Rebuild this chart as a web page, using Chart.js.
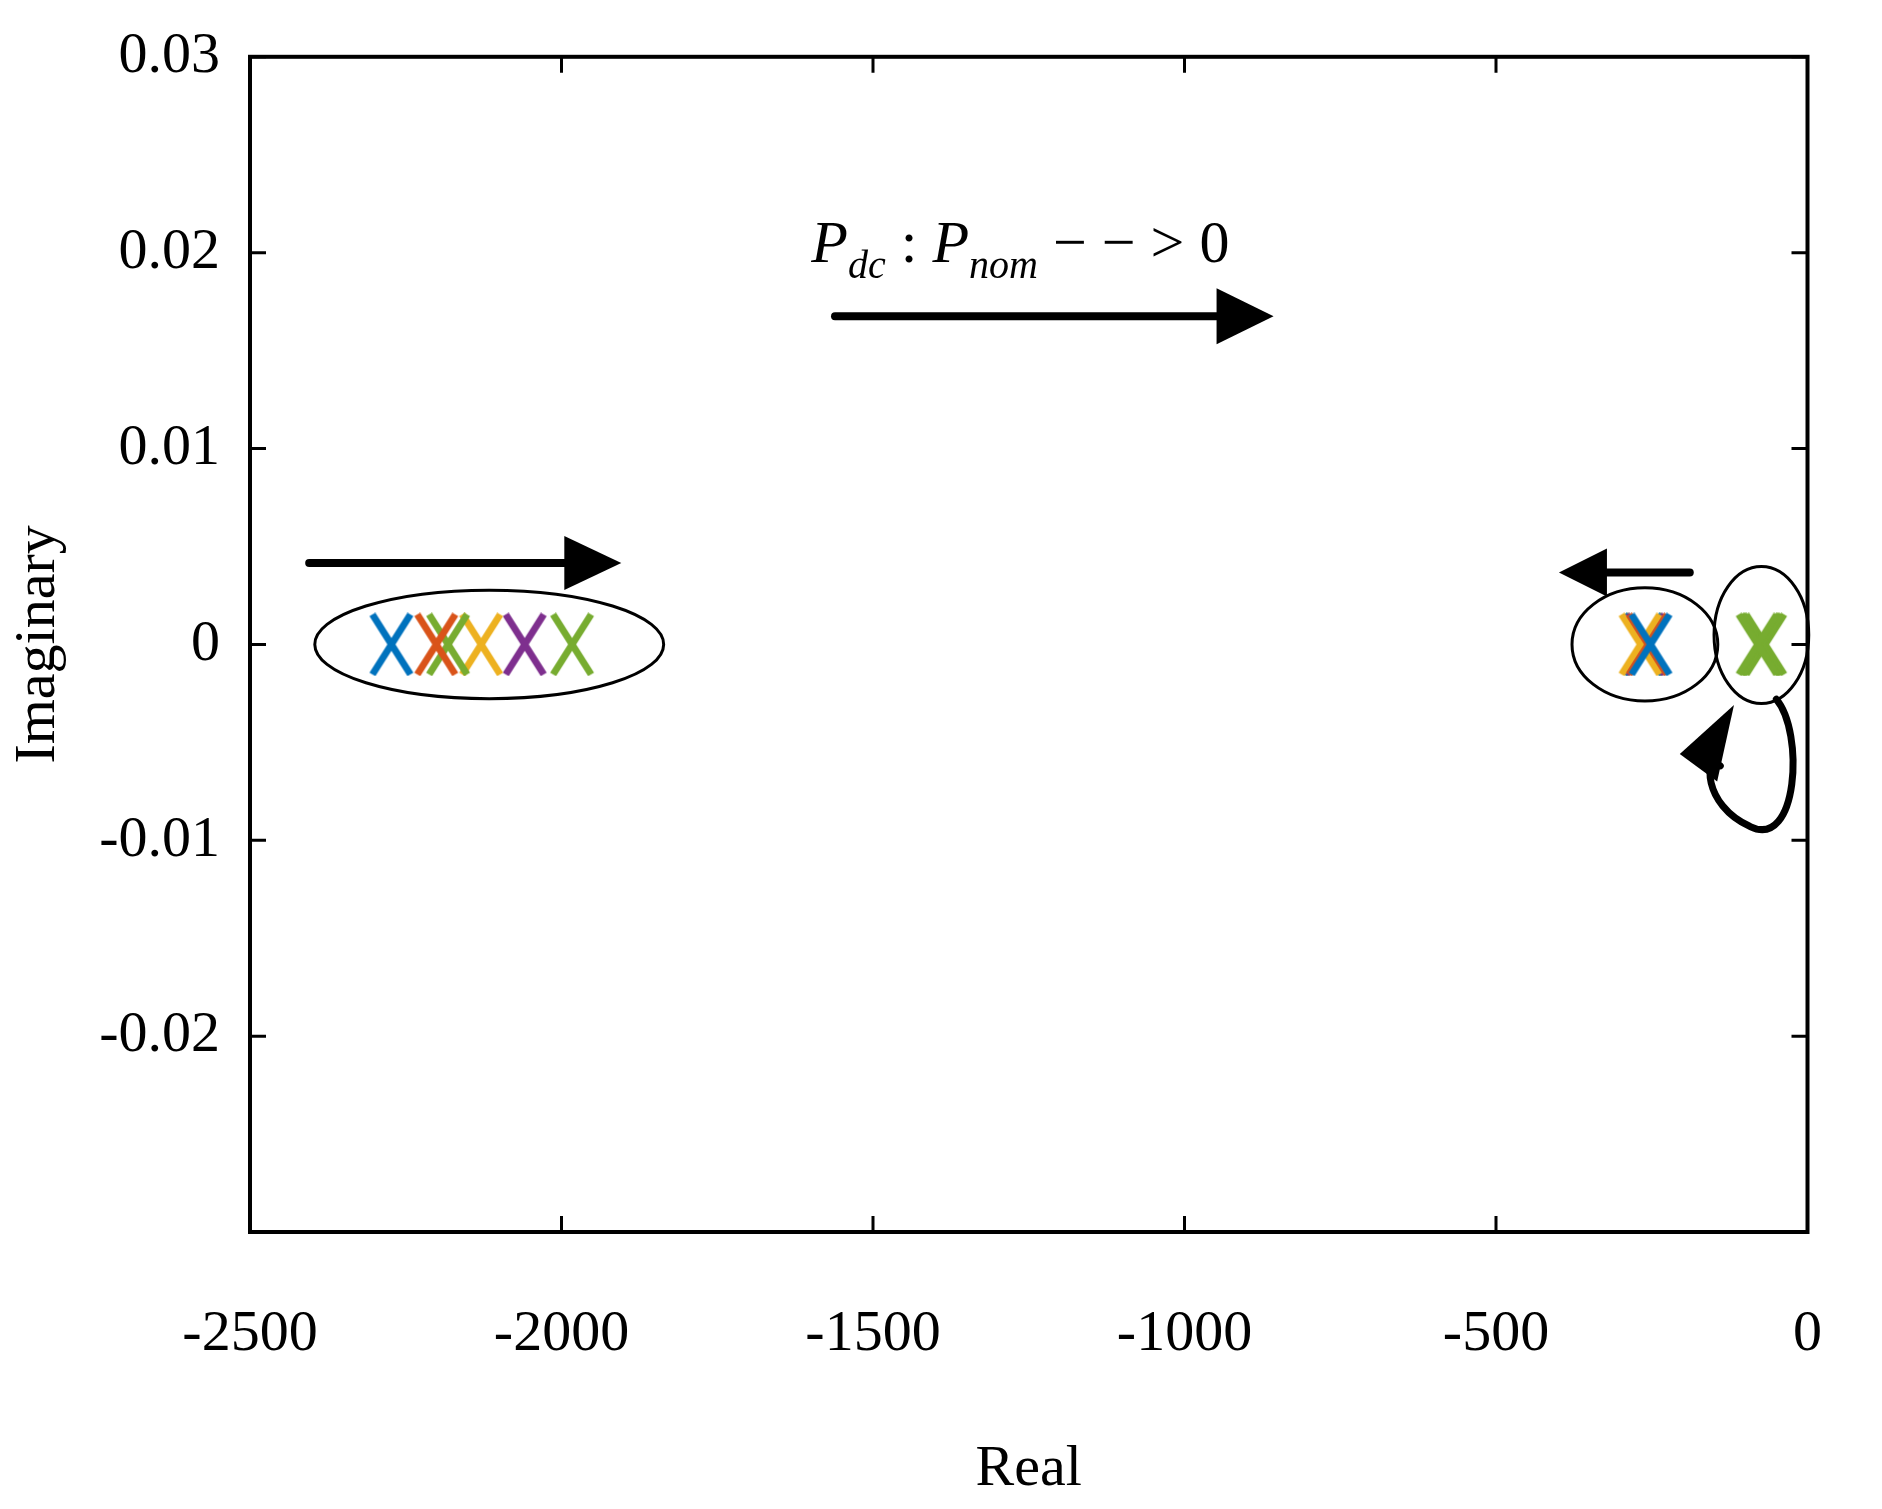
<!DOCTYPE html>
<html>
<head>
<meta charset="utf-8">
<script src="https://cdn.jsdelivr.net/npm/chart.js@4.4.0/dist/chart.umd.min.js"></script>
<style>
  body { margin: 0; background: #fff; }
</style>
</head>
<body>
<canvas id="c" width="1882" height="1509"></canvas>
<script>
// tick labels
const xTicks = [-2500, -2000, -1500, -1000, -500, 0];
const yTicks = [0.03, 0.02, 0.01, 0, -0.01, -0.02, -0.03];

// pole locations (real parts, imaginary = 0)
const leftReal = [-2273, -2201, -2182, -2129, -2059, -1983];
const leftColors = ['#0072BD', '#D95319', '#77AC30', '#EDB120', '#7E2F8E', '#77AC30'];
const midReal = [-252, -256, -268, -260, -264, -262];
const midColors = ['#0072BD', '#D95319', '#EDB120', '#7E2F8E', '#0072BD', '#77AC30'];
const rightReal = [-80, -74, -68, -76, -72];
const rightColors = ['#77AC30', '#77AC30', '#77AC30', '#77AC30', '#77AC30'];

// letter-like X marker (taller than wide)
function xMarker(color) {
  const c = document.createElement('canvas');
  c.width = 46; c.height = 64;
  const g = c.getContext('2d');
  g.strokeStyle = color; g.lineWidth = 7; g.lineCap = 'butt';
  g.beginPath(); g.moveTo(4, 2); g.lineTo(42, 62); g.moveTo(42, 2); g.lineTo(4, 62); g.stroke();
  return c;
}

function poles(reals, colors) {
  return reals.map((r, i) => ({
    data: [{ x: r, y: 0 }],
    pointStyle: xMarker(colors[i]),
    pointRadius: 30,
    borderColor: colors[i],
    showLine: false
  }));
}

const datasets = [].concat(poles(leftReal, leftColors), poles(midReal, midColors), poles(rightReal, rightColors));

const serif = '"Liberation Serif", "DejaVu Serif", serif';

// annotations: ellipses, arrows, text, ticks, frame
const overlay = {
  id: 'overlay',
  afterDatasetsDraw(chart) {
    const ctx = chart.ctx, x = chart.scales.x, y = chart.scales.y, a = chart.chartArea;
    const px = v => x.getPixelForValue(v), py = v => y.getPixelForValue(v);
    ctx.save();
    ctx.strokeStyle = '#000';
    ctx.fillStyle = '#000';

    // ticks inward on all sides
    ctx.lineWidth = 3;
    xTicks.forEach(t => {
      const p = px(t);
      ctx.beginPath(); ctx.moveTo(p, a.bottom); ctx.lineTo(p, a.bottom - 16);
      ctx.moveTo(p, a.top); ctx.lineTo(p, a.top + 16); ctx.stroke();
    });
    yTicks.forEach(t => {
      const p = py(t);
      ctx.beginPath(); ctx.moveTo(a.left, p); ctx.lineTo(a.left + 16, p);
      ctx.moveTo(a.right, p); ctx.lineTo(a.right - 16, p); ctx.stroke();
    });
    ctx.lineWidth = 4;
    ctx.strokeRect(a.left, a.top, a.right - a.left, a.bottom - a.top);

    // ellipses
    ctx.lineWidth = 3;
    function ell(cx, cy, rx, ry) {
      ctx.beginPath();
      ctx.ellipse(px(cx), py(cy), Math.abs(px(cx + rx) - px(cx)), Math.abs(py(cy + ry) - py(cy)), 0, 0, Math.PI * 2);
      ctx.stroke();
    }
    ell(-2116, 0, 280, 0.00277);
    ell(-261, 0, 117, 0.00289);
    ell(-74, 0.00048, 76, 0.0035);

    // straight arrows
    function arrow(x0, x1, yv, head, half) {
      const p0 = px(x0), p1 = px(x1), q = py(yv), d = Math.sign(p1 - p0);
      ctx.lineWidth = 8; ctx.lineCap = 'round';
      ctx.beginPath(); ctx.moveTo(p0, q); ctx.lineTo(p1 - d * head, q); ctx.stroke();
      ctx.beginPath(); ctx.moveTo(p1, q); ctx.lineTo(p1 - d * head, q - half); ctx.lineTo(p1 - d * head, q + half); ctx.closePath(); ctx.fill();
    }
    arrow(-2405, -1904, 0.00416, 57, 27);
    arrow(-1561, -857, 0.01675, 57, 28);
    arrow(-189, -399, 0.00367, 48, 24);

    // curved arrow under right ellipse
    ctx.lineWidth = 7;
    ctx.beginPath();
    ctx.moveTo(px(-50), py(-0.0028));
    ctx.bezierCurveTo(px(-5), py(-0.0045), px(-15), py(-0.0105), px(-92), py(-0.0093));
    ctx.bezierCurveTo(px(-170), py(-0.0082), px(-165), py(-0.0055), px(-140), py(-0.0062));
    ctx.stroke();
    ctx.beginPath();
    ctx.moveTo(px(-118), py(-0.0031));
    ctx.lineTo(px(-205), py(-0.0056));
    ctx.lineTo(px(-145), py(-0.0070));
    ctx.closePath(); ctx.fill();

    // label P_dc : P_nom --> 0
    ctx.textBaseline = 'alphabetic';
    let tx = px(-1599); const ty = py(0.0195);
    const big = 'italic 60px ' + serif, sub = 'italic 40px ' + serif, up = '60px ' + serif;
    function put(s, f, dy) { ctx.font = f; ctx.fillText(s, tx, ty + dy); tx += ctx.measureText(s).width; }
    put('P', big, 0); put('dc', sub, 16); put(' : ', up, 0);
    put('P', big, 0); put('nom', sub, 16); put(' \u2212 \u2212 > 0', up, 0);
    ctx.restore();
  }
};

new Chart(document.getElementById('c'), {
  type: 'scatter',
  data: { datasets },
  plugins: [overlay],
  options: {
    responsive: false,
    animation: false,
    layout: { padding: { top: 18, right: 11 } },
    plugins: { legend: { display: false }, tooltip: { enabled: false } },
    scales: {
      x: {
        min: -2500, max: 0,
        afterFit: s => { s.height = 277; },
        afterBuildTicks: s => { s.ticks = xTicks.map(v => ({ value: v })); },
        grid: { display: false },
        border: { display: false },
        ticks: { color: '#000', padding: 60, maxRotation: 0, font: { family: serif, size: 58 },
          callback: v => String(v) },
        title: { display: true, text: 'Real', color: '#000', padding: { top: 60 }, font: { family: serif, size: 58 } }
      },
      y: {
        min: -0.03, max: 0.03,
        afterFit: s => { s.width = 250; },
        afterBuildTicks: s => { s.ticks = yTicks.map(v => ({ value: v })); },
        grid: { display: false },
        border: { display: false },
        ticks: { color: '#000', padding: 22, font: { family: serif, size: 58 },
          callback: v => (Math.abs(v + 0.03) < 1e-9 ? '' : (Math.abs(v) < 1e-9 ? '0' : String(Math.round(v * 100) / 100))) },
        title: { display: true, text: 'Imaginary', color: '#000', padding: { bottom: 20 }, font: { family: serif, size: 58 } }
      }
    }
  }
});
</script>
</body>
</html>
